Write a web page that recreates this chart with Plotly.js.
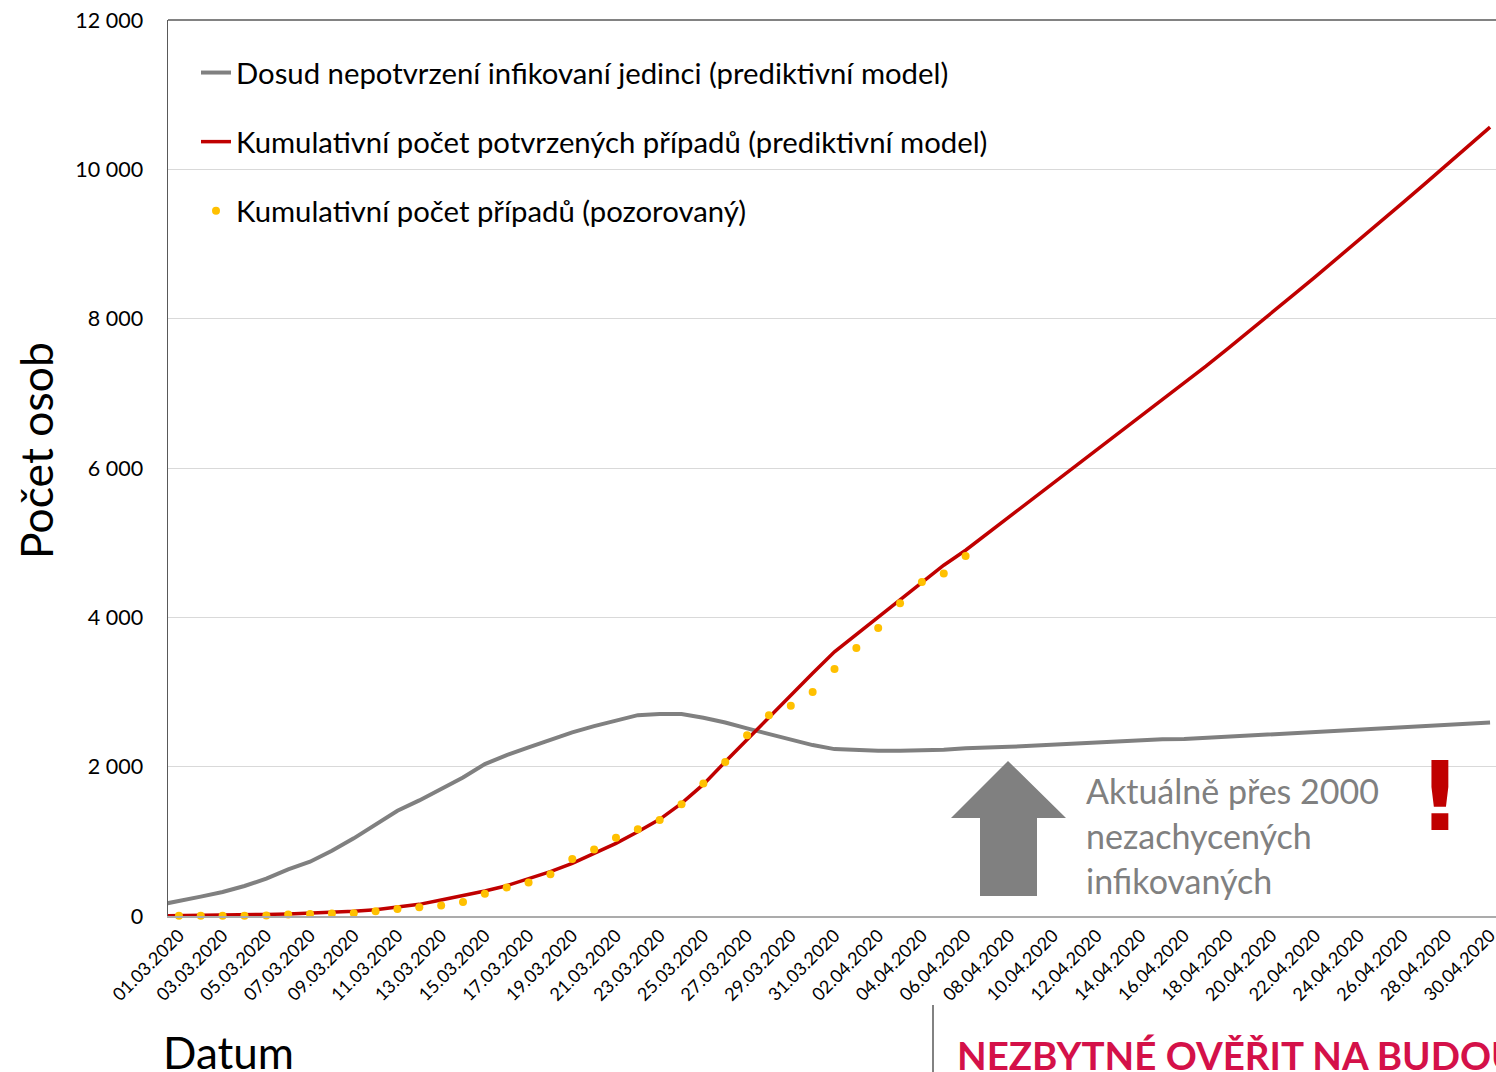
<!DOCTYPE html>
<html>
<head>
<meta charset="utf-8">
<script src="https://cdn.plot.ly/plotly-3.0.1.min.js"></script>
<style>
html,body{margin:0;padding:0;overflow:hidden;background:#fff;}
#chart{width:1521px;height:1072px;}
</style>
</head>
<body>
<div id="chart"></div>
<script>
// Model dates (29.02 only to let the model lines reach the left edge of the plot)
const modelDates = ["29.02.2020",
"01.03.2020","02.03.2020","03.03.2020","04.03.2020","05.03.2020","06.03.2020","07.03.2020","08.03.2020","09.03.2020","10.03.2020",
"11.03.2020","12.03.2020","13.03.2020","14.03.2020","15.03.2020","16.03.2020","17.03.2020","18.03.2020","19.03.2020","20.03.2020",
"21.03.2020","22.03.2020","23.03.2020","24.03.2020","25.03.2020","26.03.2020","27.03.2020","28.03.2020","29.03.2020","30.03.2020","31.03.2020",
"01.04.2020","02.04.2020","03.04.2020","04.04.2020","05.04.2020","06.04.2020","07.04.2020","08.04.2020","09.04.2020","10.04.2020",
"11.04.2020","12.04.2020","13.04.2020","14.04.2020","15.04.2020","16.04.2020","17.04.2020","18.04.2020","19.04.2020","20.04.2020",
"21.04.2020","22.04.2020","23.04.2020","24.04.2020","25.04.2020","26.04.2020","27.04.2020","28.04.2020","29.04.2020","30.04.2020"];

// Dosud nepotvrzení infikovaní jedinci (prediktivní model)
const unconfirmedModel = [143,
197,259,321,402,500,625,727,874,1040,1218,
1410,1548,1700,1856,2034,2155,2258,2360,2459,2543,
2623,2690,2704,2704,2654,2592,2512,2436,2356,2289,2235,
2218,2213,2213,2213,2225,2245,2262,2266,2280,2295,
2310,2325,2340,2355,2367,2370,2386,2402,2418,2433,
2449,2465,2481,2497,2513,2529,2545,2560,2576,2592];

// Kumulativní počet potvrzených případů (prediktivní model)
const confirmedModel = [2,
4,6,10,15,21,28,37,48,63,85,
116,156,214,272,335,406,495,593,705,839,
973,1128,1294,1508,1763,2065,2365,2660,2958,3250,3538,
3770,4002,4234,4466,4698,4899,5122,5345,5568,5791,
6014,6246,6460,6685,6910,7135,7365,7600,7835,8075,
8318,8560,8805,9050,9300,9550,9802,10055,10310,10565];

// Kumulativní počet případů (pozorovaný)
const observedDates = ["01.03.2020","02.03.2020","03.03.2020","04.03.2020","05.03.2020","06.03.2020","07.03.2020","08.03.2020","09.03.2020","10.03.2020",
"11.03.2020","12.03.2020","13.03.2020","14.03.2020","15.03.2020","16.03.2020","17.03.2020","18.03.2020","19.03.2020","20.03.2020",
"21.03.2020","22.03.2020","23.03.2020","24.03.2020","25.03.2020","26.03.2020","27.03.2020","28.03.2020","29.03.2020","30.03.2020","31.03.2020",
"01.04.2020","02.04.2020","03.04.2020","04.04.2020","05.04.2020","06.04.2020"];
const observed = [3,3,5,5,8,19,26,32,38,63,
94,116,141,189,298,383,450,560,765,889,
1047,1161,1287,1497,1775,2062,2422,2689,2817,3001,3308,
3589,3858,4190,4472,4587,4822];

const tickLabels = ["01.03.2020","03.03.2020","05.03.2020","07.03.2020","09.03.2020","11.03.2020","13.03.2020","15.03.2020",
"17.03.2020","19.03.2020","21.03.2020","23.03.2020","25.03.2020","27.03.2020","29.03.2020","31.03.2020",
"02.04.2020","04.04.2020","06.04.2020","08.04.2020","10.04.2020","12.04.2020","14.04.2020","16.04.2020",
"18.04.2020","20.04.2020","22.04.2020","24.04.2020","26.04.2020","28.04.2020","30.04.2020"];

const seriesNames = ["Dosud nepotvrzení infikovaní jedinci (prediktivní model)",
"Kumulativní počet potvrzených případů (prediktivní model)",
"Kumulativní počet případů (pozorovaný)"];

const FONT = "Lato, 'Open Sans', sans-serif";
// layout geometry (pixels)
const L = 168, T = 20, PW = 1333, PH = 896, W = 1521, H = 1072;
const px = x => (x - L) / PW;
const py = y => (T + PH - y) / PH;

const traces = [
  {x: modelDates, y: unconfirmedModel, type: 'scatter', mode: 'lines', name: seriesNames[0],
   line: {color: '#808080', width: 4}, legendgroup: 'a', cliponaxis: true},
  {x: modelDates, y: confirmedModel, type: 'scatter', mode: 'lines', name: seriesNames[1],
   line: {color: '#C00000', width: 3.5}, legendgroup: 'b', cliponaxis: true},
  {x: observedDates, y: observed, type: 'scatter', mode: 'markers', name: seriesNames[2],
   marker: {color: '#FFC000', size: 8}, legendgroup: 'c', cliponaxis: false}
];

const arrowPath = 'M' + px(1008) + ',' + py(761) + ' L' + px(1066) + ',' + py(818) + ' L' + px(1037) + ',' + py(818) +
  ' L' + px(1037) + ',' + py(896) + ' L' + px(980) + ',' + py(896) + ' L' + px(980) + ',' + py(818) +
  ' L' + px(951) + ',' + py(818) + ' Z';

const layout = {
  width: W, height: H,
  margin: {l: L, r: W - L - PW, t: T, b: H - T - PH},
  paper_bgcolor: '#ffffff', plot_bgcolor: '#ffffff',
  separators: ', ',
  font: {family: FONT, color: '#000000'},
  showlegend: true,
  legend: {x: px(196), y: py(47), xanchor: 'left', yanchor: 'top', traceorder: 'grouped',
    tracegroupgap: 28, font: {size: 29.3, family: FONT, color: '#000'}, bgcolor: 'rgba(0,0,0,0)'},
  xaxis: {type: 'category', categoryorder: 'array', categoryarray: modelDates,
    range: [0.5, 61.5], tickmode: 'array', tickvals: tickLabels, ticktext: tickLabels,
    tickangle: -45, tickfont: {size: 18, family: FONT, color: '#000'}, showgrid: false,
    showline: true, linecolor: '#ABABAB', linewidth: 2, ticks: '', zeroline: false, fixedrange: true},
  yaxis: {range: [0, 12000], tickvals: [0, 2000, 4000, 6000, 8000, 10000, 12000], tickformat: ',d',
    tickfont: {size: 21.5, family: FONT, color: '#000'}, showgrid: true, gridcolor: '#D9D9D9', gridwidth: 1,
    showline: true, linecolor: '#595959', linewidth: 1.5, mirror: true, ticks: '', ticklabelstandoff: 19,
    zeroline: false, fixedrange: true},
  shapes: [
    {type: 'line', xref: 'paper', yref: 'paper', x0: 0, x1: 1, y0: 1, y1: 1, line: {color: '#595959', width: 1.5}},
    {type: 'path', xref: 'paper', yref: 'paper', path: arrowPath, fillcolor: '#808080', line: {width: 0}},
    {type: 'line', xref: 'paper', yref: 'paper', x0: px(933), x1: px(933), y0: py(1005), y1: py(1075), line: {color: '#595959', width: 1.5}}
  ],
  annotations: [
    {text: 'Počet osob', xref: 'paper', yref: 'paper', x: px(35), y: py(451), textangle: -90, showarrow: false,
     xanchor: 'center', yanchor: 'middle', font: {size: 44.5, family: FONT, color: '#000'}},
    {text: 'Datum', xref: 'paper', yref: 'paper', x: px(161), y: py(1052), showarrow: false,
     xanchor: 'left', yanchor: 'middle', font: {size: 44, family: FONT, color: '#000'}},
    {text: 'Aktuálně přes 2000', xref: 'paper', yref: 'paper', x: px(1084), y: py(790), showarrow: false,
     xanchor: 'left', yanchor: 'middle', font: {size: 34, family: FONT, color: '#808080'}},
    {text: 'nezachycených', xref: 'paper', yref: 'paper', x: px(1084), y: py(835), showarrow: false,
     xanchor: 'left', yanchor: 'middle', font: {size: 34, family: FONT, color: '#808080'}},
    {text: 'infikovaných', xref: 'paper', yref: 'paper', x: px(1084), y: py(880), showarrow: false,
     xanchor: 'left', yanchor: 'middle', font: {size: 34, family: FONT, color: '#808080'}},
    {text: '<b>!</b>', xref: 'paper', yref: 'paper', x: px(1440), y: py(797), showarrow: false,
     xanchor: 'center', yanchor: 'middle', font: {size: 96, family: 'DejaVu Sans', color: '#C00000'}},
    {text: '<b>NEZBYTNÉ OVĚŘIT NA BUDOUCÍCH DATECH</b>', xref: 'paper', yref: 'paper', x: px(955), y: py(1055),
     showarrow: false, xanchor: 'left', yanchor: 'middle', font: {size: 38.5, family: FONT, color: '#D41149'}}
  ]
};

Plotly.newPlot('chart', traces, layout, {displayModeBar: false, staticPlot: true});
</script>
</body>
</html>
